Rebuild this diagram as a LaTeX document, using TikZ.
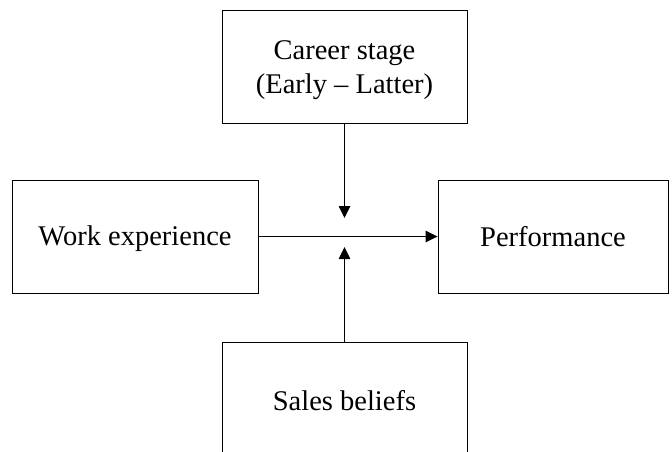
\documentclass[tikz,border=0pt]{standalone}
\usepackage{fontspec}
\setmainfont{Liberation Serif}
\usetikzlibrary{arrows.meta}
\begin{document}
\begin{tikzpicture}[x=1pt,y=-1pt,
  box/.style={draw, line width=0.9pt, minimum width=245pt, minimum height=113pt, inner sep=0pt},
  txt/.style={inner sep=0pt, align=center, font=\fontsize{28.5}{34}\selectfont},
  conn/.style={line width=0.9pt, -{Triangle[length=12pt,width=11.5pt]}}]
\clip (0,0) rectangle (672,451);
\fill[white] (0,0) rectangle (672,451);
\node[box] (career) at (344.5,66.5) {};
\node[box, minimum width=246pt] (work) at (135,236.5) {};
\node[box, minimum width=230pt] (perf) at (553,236.5) {};
\node[box] (sales) at (344.5,399) {};
\node[txt] (careertext) at ([yshift=-4pt]career.center) {Career stage\\(Early -- Latter)};
\node[txt] (worktext) at ([yshift=-2.5pt]work.center) {Work experience};
\node[txt] (perftext) at ([yshift=-0.5pt]perf.center) {Performance};
\node[txt] (salestext) at ([yshift=-2pt]sales.center) {Sales beliefs};
\coordinate (tipdown) at (344.5,218);
\coordinate (tipup) at (344.5,247);
\draw[conn] (work.east) -- (perf.west);
\draw[conn] (career.south) -- (tipdown);
\draw[conn] (sales.north) -- (tipup);
\end{tikzpicture}
\end{document}
